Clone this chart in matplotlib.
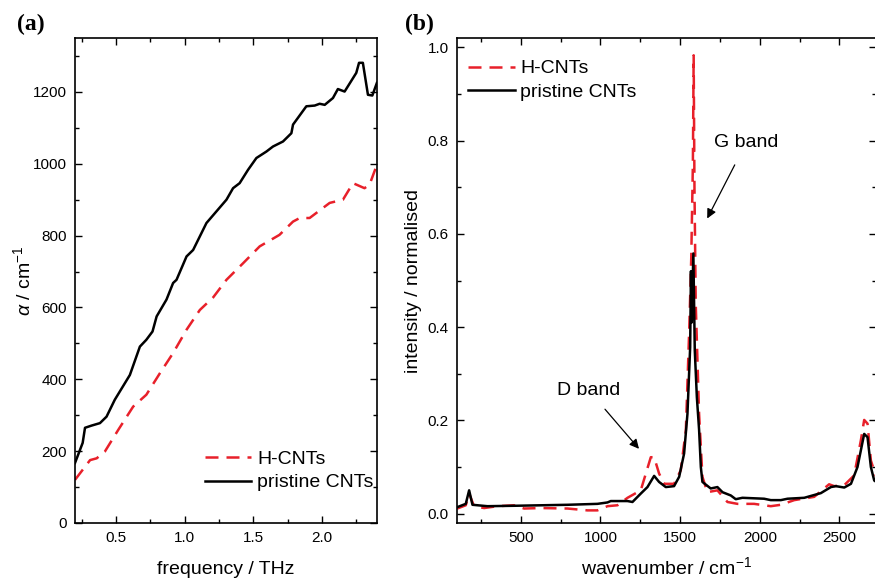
import matplotlib.pyplot as plt
import numpy as np
from matplotlib.ticker import MultipleLocator

plt.rcParams['font.family'] = ['Liberation Sans', 'DejaVu Sans']
plt.rcParams['mathtext.fontset'] = 'custom'
plt.rcParams['mathtext.rm'] = 'Liberation Sans'
plt.rcParams['mathtext.it'] = 'Liberation Sans:italic'

# (a) THz absorption
freq_pristine = [0.2, 0.256, 0.273, 0.32, 0.382, 0.43, 0.49, 0.60, 0.673, 0.72, 0.765, 0.795,
                 0.867, 0.915, 0.94, 1.013, 1.061, 1.158, 1.304, 1.352, 1.40, 1.461, 1.522,
                 1.595, 1.643, 1.716, 1.777, 1.789, 1.886, 1.947, 1.983, 2.02, 2.08, 2.116,
                 2.165, 2.25, 2.27, 2.298, 2.335, 2.367, 2.40]
alpha_pristine = [167, 223, 265, 271, 278, 296, 343, 412, 491, 510, 533, 575,
                  622, 668, 677, 742, 760, 835, 900, 932, 946, 983, 1016,
                  1034, 1048, 1062, 1085, 1109, 1160, 1162, 1167, 1164, 1183, 1208,
                  1201, 1253, 1281, 1281, 1192, 1190, 1225]

freq_h = [0.2, 0.31, 0.358, 0.418, 0.515, 0.624, 0.72, 0.819, 0.915, 1.013, 1.11, 1.207,
          1.304, 1.425, 1.546, 1.69, 1.789, 1.838, 1.91, 2.056, 2.153, 2.226, 2.31, 2.347, 2.40]
alpha_h = [120, 175, 180, 199, 259, 324, 357, 417, 473, 538, 593, 628,
           677, 723, 770, 802, 839, 849, 849, 891, 900, 946, 932, 942, 997]

# (b) Raman spectra
wn_pristine = [102, 155, 176, 197, 291, 479, 793, 981, 1044, 1065, 1170, 1201, 1253, 1295,
               1337, 1368, 1410, 1462, 1494, 1525, 1546, 1563, 1568, 1573, 1583, 1592,
               1605, 1619, 1630, 1640, 1692, 1734, 1766, 1818, 1849, 1891, 2027, 2069,
               2132, 2174, 2279, 2383, 2446, 2477, 2530, 2572, 2613, 2655, 2676, 2697,
               2718, 2740]
int_pristine = [0.014, 0.021, 0.05, 0.019, 0.016, 0.017, 0.019, 0.021, 0.024, 0.027, 0.027,
                0.025, 0.043, 0.057, 0.081, 0.068, 0.057, 0.059, 0.079, 0.129, 0.214,
                0.357, 0.52, 0.41, 0.558, 0.35, 0.25, 0.18, 0.1, 0.068, 0.054, 0.057,
                0.046, 0.039, 0.031, 0.034, 0.032, 0.029, 0.029, 0.032, 0.034, 0.044,
                0.057, 0.059, 0.056, 0.064, 0.1, 0.171, 0.164, 0.1, 0.071, 0.066]

wn_h = [102, 155, 176, 207, 270, 354, 458, 521, 626, 793, 918, 981, 1044, 1107, 1170,
        1253, 1316, 1337, 1368, 1400, 1462, 1504, 1536, 1557, 1570, 1580, 1585, 1590,
        1598, 1619, 1640, 1671, 1734, 1797, 1860, 1964, 2069, 2132, 2216, 2341, 2435,
        2467, 2530, 2592, 2634, 2655, 2676, 2697, 2740]
int_h = [0.011, 0.018, 0.043, 0.016, 0.012, 0.016, 0.018, 0.011, 0.012, 0.011, 0.007,
         0.007, 0.016, 0.018, 0.034, 0.05, 0.121, 0.121, 0.086, 0.064, 0.064, 0.093,
         0.179, 0.393, 0.55, 0.75, 0.983, 0.7, 0.45, 0.214, 0.079, 0.046, 0.05, 0.025,
         0.021, 0.021, 0.016, 0.019, 0.029, 0.036, 0.063, 0.059, 0.061, 0.082, 0.157,
         0.201, 0.193, 0.114, 0.068]

red = '#e8202a'
dash = (0, (5.2, 3.2))

fig = plt.figure(figsize=(8.75, 5.78), dpi=100)
ax1 = fig.add_axes([0.0857, 0.0952, 0.345, 0.839])
ax2 = fig.add_axes([0.5223, 0.0952, 0.479, 0.839])

for ax in (ax1, ax2):
    ax.tick_params(which='both', direction='in', top=True, right=True, labelsize=11, pad=6)
    ax.tick_params(which='major', length=5, width=1)
    ax.tick_params(which='minor', length=3, width=1)
    for s in ax.spines.values():
        s.set_linewidth(1.2)

ax1.plot(freq_h, alpha_h, color=red, lw=1.8, linestyle=dash, label='H-CNTs')
ax1.plot(freq_pristine, alpha_pristine, color='black', lw=1.8, label='pristine CNTs')
ax1.set_xlim(0.2, 2.4)
ax1.set_ylim(0, 1350)
ax1.xaxis.set_major_locator(MultipleLocator(0.5))
ax1.xaxis.set_minor_locator(MultipleLocator(0.25))
ax1.yaxis.set_major_locator(MultipleLocator(200))
ax1.yaxis.set_minor_locator(MultipleLocator(100))
ax1.set_xlabel('frequency / THz', fontsize=14, va='baseline')
ax1.xaxis.set_label_coords(0.5, -0.105)
ax1.set_ylabel(r'$\alpha$ / cm$^{-1}$', fontsize=14, labelpad=-1)
ax1.legend(loc='lower left', bbox_to_anchor=(0.43, 0.065), frameon=False, fontsize=14,
           handlelength=2.4, handletextpad=0.3, labelspacing=0.3, borderpad=0, borderaxespad=0)

ax2.plot(wn_h, int_h, color=red, lw=1.8, linestyle=dash, label='H-CNTs')
ax2.plot(wn_pristine, int_pristine, color='black', lw=1.8, label='pristine CNTs')
ax2.set_xlim(100, 2730)
ax2.set_ylim(-0.02, 1.02)
ax2.xaxis.set_major_locator(MultipleLocator(500))
ax2.xaxis.set_minor_locator(MultipleLocator(250))
ax2.yaxis.set_major_locator(MultipleLocator(0.2))
ax2.yaxis.set_minor_locator(MultipleLocator(0.1))
ax2.set_xlabel('wavenumber / cm$^{-1}$', fontsize=14, va='baseline')
ax2.xaxis.set_label_coords(0.5, -0.105)
ax2.set_ylabel('intensity / normalised', fontsize=14, labelpad=4)
ax2.legend(loc='upper left', bbox_to_anchor=(0.026, 0.955), frameon=False, fontsize=14,
           handlelength=2.4, handletextpad=0.3, labelspacing=0.3, borderpad=0, borderaxespad=0)

arrow = dict(arrowstyle='-|>', color='black', lw=0.9, mutation_scale=14)
ax2.annotate('G band', xy=(1670, 0.633), xytext=(1915, 0.796), fontsize=14,
             ha='center', va='center', arrowprops=dict(arrow, shrinkA=9, shrinkB=0))
ax2.annotate('D band', xy=(1242, 0.139), xytext=(928, 0.264), fontsize=14,
             ha='center', va='center', arrowprops=dict(arrow, shrinkA=7, shrinkB=0))

fig.text(0.019, 0.957, '(a)', fontsize=17, fontweight='bold', family='Liberation Serif', va='center')
fig.text(0.463, 0.957, '(b)', fontsize=17, fontweight='bold', family='Liberation Serif', va='center')

fig.savefig('out.png', dpi=100)
